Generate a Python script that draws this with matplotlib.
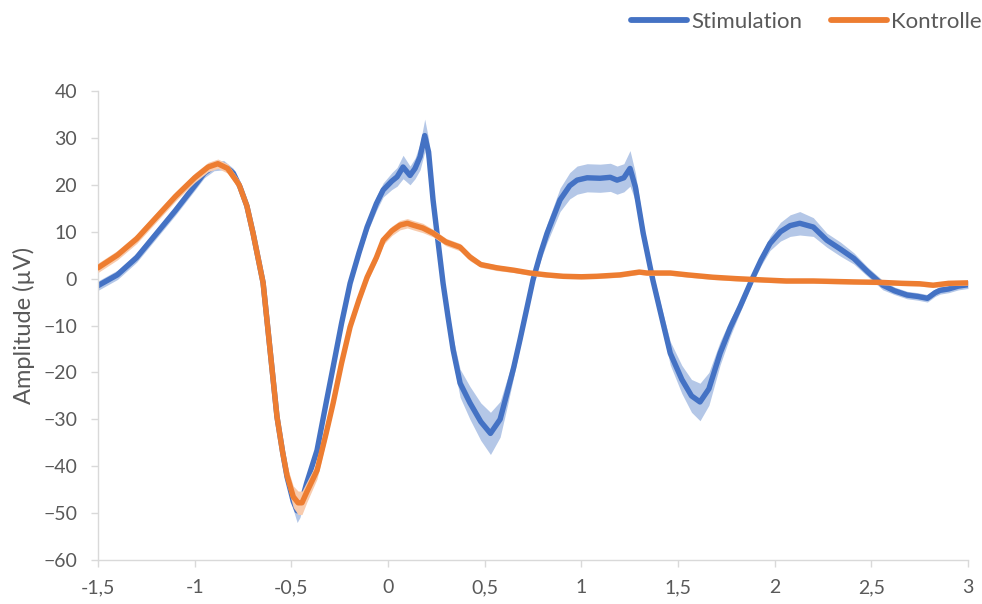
# -*- coding: utf-8 -*-

import matplotlib
matplotlib.use('Agg')
import matplotlib.pyplot as plt
from matplotlib.ticker import FuncFormatter
import numpy as np

# Stimulation: Zeit (s), Mittelwert, Fehler
stim_t = [-1.50, -1.40, -1.30, -1.20, -1.10, -1.00, -0.95, -0.90, -0.85, -0.80,
          -0.765, -0.73, -0.698, -0.67, -0.646, -0.61, -0.574, -0.545, -0.522, -0.49,
          -0.47, -0.455, -0.42, -0.367, -0.32, -0.284, -0.24, -0.196, -0.15, -0.108,
          -0.06, -0.025, 0.02, 0.047, 0.078, 0.114, 0.14, 0.166, 0.19, 0.21,
          0.233, 0.26, 0.285, 0.31, 0.337, 0.373, 0.424, 0.48, 0.53, 0.58,
          0.616, 0.65, 0.683, 0.72, 0.75, 0.79, 0.823, 0.89, 0.94, 0.978,
          1.03, 1.097, 1.15, 1.185, 1.22, 1.252, 1.28, 1.32, 1.37, 1.42,
          1.46, 1.52, 1.57, 1.614, 1.66, 1.718, 1.77, 1.821, 1.888, 1.93,
          1.976, 2.03, 2.08, 2.13, 2.20, 2.27, 2.34, 2.41, 2.48, 2.56,
          2.62, 2.685, 2.74, 2.79, 2.83, 2.856, 2.90, 2.95, 3.00]
stim_m = [-1.5, 0.8, 4.5, 9.5, 14.5, 19.8, 22.5, 24.0, 24.2, 22.5,
          19.5, 15.5, 9.7, 4.0, -0.9, -15.2, -29.5, -37.0, -42.3, -47.5,
          -49.5, -48.7, -43.5, -36.6, -26.5, -18.9, -9.5, -1.0, 5.5, 11.0,
          16.0, 18.9, 20.8, 21.7, 23.8, 22.0, 23.5, 26.0, 30.5, 27.0,
          16.8, 7.5, -1.0, -8.0, -15.2, -22.3, -26.5, -30.5, -33.0, -30.0,
          -24.4, -19.0, -13.0, -6.0, -0.3, 5.5, 9.7, 16.8, 19.8, 21.0,
          21.5, 21.4, 21.6, 21.0, 21.5, 23.5, 19.5, 9.7, -0.3, -9.0,
          -15.9, -21.5, -25.0, -26.3, -23.5, -15.9, -10.5, -6.0, 0.3, 4.0,
          7.5, 10.0, 11.3, 11.8, 11.0, 8.2, 6.3, 4.3, 1.5, -1.4,
          -2.6, -3.5, -3.8, -4.2, -3.0, -2.5, -2.2, -1.6, -1.3]
stim_e = [1.0, 1.0, 1.0, 1.0, 1.0, 1.0, 1.0, 1.0, 1.0, 1.0,
          0.8, 0.8, 0.8, 0.8, 0.8, 0.8, 0.8, 1.0, 1.2, 1.8,
          2.5, 2.2, 1.5, 1.0, 1.0, 1.0, 1.0, 1.0, 1.0, 1.2,
          1.5, 1.5, 1.8, 2.0, 2.5, 2.0, 2.2, 2.8, 3.5, 2.8,
          2.0, 1.5, 1.5, 2.0, 2.5, 3.0, 3.5, 4.0, 4.5, 3.8,
          3.0, 2.0, 1.5, 1.2, 1.2, 1.5, 2.0, 2.5, 2.8, 3.0,
          3.0, 3.0, 3.0, 3.0, 3.0, 3.8, 3.0, 2.0, 1.5, 2.0,
          2.5, 3.0, 3.5, 4.0, 3.5, 2.5, 1.8, 1.2, 1.0, 1.2,
          1.5, 2.0, 2.3, 2.5, 2.0, 1.5, 1.5, 1.2, 1.0, 1.0,
          0.8, 0.8, 0.8, 0.8, 0.8, 0.8, 0.8, 0.8, 0.8]

# Kontrolle
kont_t = [-1.50, -1.40, -1.30, -1.20, -1.10, -1.00, -0.93, -0.88, -0.83, -0.77,
          -0.73, -0.698, -0.67, -0.646, -0.61, -0.574, -0.545, -0.522, -0.49, -0.465,
          -0.445, -0.42, -0.367, -0.32, -0.284, -0.24, -0.196, -0.15, -0.108, -0.06,
          -0.025, 0.02, 0.062, 0.10, 0.13, 0.18, 0.233, 0.30, 0.373, 0.424,
          0.48, 0.564, 0.65, 0.735, 0.82, 0.906, 1.00, 1.08, 1.20, 1.30,
          1.34, 1.46, 1.55, 1.68, 1.80, 1.95, 2.06, 2.20, 2.41, 2.55,
          2.66, 2.75, 2.82, 2.90, 3.00]
kont_m = [2.3, 5.0, 8.5, 13.0, 17.5, 21.5, 23.8, 24.5, 23.5, 20.0,
          15.5, 9.7, 4.0, -0.9, -15.2, -29.5, -37.0, -42.0, -46.5, -47.8,
          -47.8, -45.5, -40.9, -33.0, -26.6, -18.0, -10.3, -4.5, 0.3, 4.5,
          8.2, 10.2, 11.4, 11.8, 11.4, 10.8, 9.7, 7.8, 6.7, 4.6,
          3.0, 2.3, 1.8, 1.2, 0.8, 0.5, 0.4, 0.5, 0.8, 1.4,
          1.2, 1.2, 0.8, 0.3, 0.0, -0.3, -0.5, -0.5, -0.7, -0.8,
          -1.0, -1.1, -1.4, -1.0, -0.9]
kont_e = [1.0, 1.0, 1.0, 1.0, 1.0, 1.0, 1.0, 1.0, 1.0, 1.0,
          1.0, 1.0, 1.0, 1.0, 1.2, 1.5, 1.8, 2.0, 2.3, 2.5,
          2.5, 2.2, 1.8, 1.5, 1.2, 1.0, 1.0, 1.0, 1.0, 1.0,
          1.0, 1.0, 1.0, 1.0, 1.0, 1.0, 0.8, 0.8, 0.8, 0.8,
          0.6, 0.6, 0.5, 0.5, 0.5, 0.5, 0.5, 0.5, 0.5, 0.5,
          0.5, 0.5, 0.5, 0.5, 0.5, 0.5, 0.5, 0.5, 0.5, 0.5,
          0.5, 0.5, 0.5, 0.5, 0.5]

BLUE = '#4472C4'
ORANGE = '#ED7D31'
GREY = '#595959'

plt.rcParams['font.family'] = ['Lato', 'DejaVu Sans']

fig = plt.figure(figsize=(9.82, 6.04), dpi=100)
ax = fig.add_axes([0.0998, 0.0728, 0.8859, 0.7765])

st = np.array(stim_t)
sm = np.array(stim_m)
se = np.array(stim_e)
kt = np.array(kont_t)
km = np.array(kont_m)
ke = np.array(kont_e)

ax.fill_between(st, sm - se, sm + se, color='#B4C7E7', lw=0, zorder=1)
ax.plot(st, sm, color=BLUE, lw=3.9, solid_capstyle='round', solid_joinstyle='round',
        zorder=2, label='Stimulation')
ax.fill_between(kt, km - ke, km + ke, color='#F8CBAD', lw=0, zorder=3)
ax.plot(kt, km, color=ORANGE, lw=3.9, solid_capstyle='round', solid_joinstyle='round',
        zorder=4, label='Kontrolle')

ax.set_xlim(-1.5, 3)
ax.set_ylim(-60, 40)
ax.set_xticks(np.arange(-1.5, 3.01, 0.5))
ax.set_yticks(np.arange(-60, 41, 10))
ax.xaxis.set_major_formatter(FuncFormatter(lambda v, p: ('%g' % v).replace('.', ',')))

for s in ['top', 'right']:
    ax.spines[s].set_visible(False)
for s in ['left', 'bottom']:
    ax.spines[s].set_color('#D9D9D9')
    ax.spines[s].set_linewidth(1.0)
ax.tick_params(axis='both', colors='#D9D9D9', labelcolor=GREY, labelsize=14,
               length=5, width=1.0, direction='out')
ax.tick_params(axis='y', pad=10)
ax.tick_params(axis='x', pad=9)
ax.set_ylabel('Amplitude (µV)', color=GREY, fontsize=17, labelpad=6)

leg = ax.legend(loc='center right', bbox_to_anchor=(1.016, 1.147), ncol=2, frameon=False,
                fontsize=16, handlelength=2.5, handletextpad=0.2, columnspacing=1.3,
                borderaxespad=0, borderpad=0)
for t in leg.get_texts():
    t.set_color(GREY)
for h in leg.get_lines():
    h.set_linewidth(4.2)

fig.savefig('out.png', dpi=100)
